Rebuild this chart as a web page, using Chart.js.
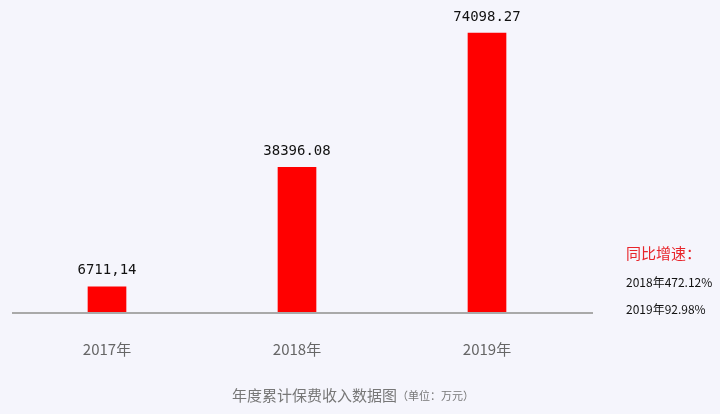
<!DOCTYPE html>
<html>
<head>
<meta charset="utf-8">
<script src="https://cdn.jsdelivr.net/npm/chart.js@4/dist/chart.umd.min.js"></script>
<style>
  html, body { margin: 0; padding: 0; background: #f5f5fc; }
  #wrap { width: 720px; height: 414px; }
</style>
</head>
<body>
<div id="wrap"><canvas id="premiumCanvas" width="720" height="414"></canvas></div>
<script>
// 年度累计保费收入（万元）
const years = ['2017年', '2018年', '2019年'];
const premiums = [6711.14, 38396.08, 74098.27];
const premiumLabels = ['6711,14', '38396.08', '74098.27'];
const growthTitle = '同比增速：';
const growthLines = ['2018年472.12%', '2019年92.98%'];

const CN = '"Noto Sans CJK SC", "Noto Sans", sans-serif';

// bar value labels + baseline + right note + bottom title
const decorPlugin = {
  id: 'decor',
  afterDatasetsDraw(chart) {
    const ctx = chart.ctx;
    const area = chart.chartArea;
    ctx.save();

    // baseline
    ctx.strokeStyle = '#a9a9a9';
    ctx.lineWidth = 2;
    ctx.beginPath();
    ctx.moveTo(12, area.bottom + 1);
    ctx.lineTo(593, area.bottom + 1);
    ctx.stroke();

    // values above bars
    const meta = chart.getDatasetMeta(0);
    ctx.fillStyle = '#111';
    ctx.font = '14px "DejaVu Sans Mono", monospace';
    ctx.textAlign = 'center';
    ctx.textBaseline = 'bottom';
    meta.data.forEach(function(bar, i) {
      ctx.fillText(premiumLabels[i], bar.x, bar.y - 9);
    });

    // right side note
    ctx.textAlign = 'left';
    ctx.textBaseline = 'middle';
    ctx.fillStyle = '#e8242a';
    ctx.font = '15px ' + CN;
    ctx.fillText(growthTitle, 626, 253);
    ctx.fillStyle = '#111';
    ctx.font = '12px ' + CN;
    growthLines.forEach(function(t, i) {
      ctx.fillText(t, 626, 282 + i * 27);
    });

    // bottom title
    ctx.fillStyle = '#777';
    const main = '年度累计保费收入数据图';
    const unit = '（单位：万元）';
    ctx.font = '15px ' + CN;
    const w1 = ctx.measureText(main).width;
    ctx.font = '11px ' + CN;
    const w2 = ctx.measureText(unit).width;
    const x0 = 353 - (w1 + w2) / 2;
    ctx.font = '15px ' + CN;
    ctx.fillText(main, x0, 395);
    ctx.font = '11px ' + CN;
    ctx.fillText(unit, x0 + w1, 396);

    ctx.restore();
  }
};

new Chart(document.getElementById('premiumCanvas'), {
  type: 'bar',
  data: {
    labels: years,
    datasets: [{
      data: premiums,
      backgroundColor: '#ff0000',
      borderWidth: 0,
      barThickness: 38,
    }]
  },
  options: {
    responsive: false,
    animation: false,
    layout: { padding: { top: 20, left: 12, right: 138, bottom: 36 } },
    plugins: {
      legend: { display: false },
      tooltip: { enabled: false }
    },
    scales: {
      x: {
        grid: { display: false },
        border: { display: false },
        ticks: {
          color: '#666',
          font: { size: 15, family: CN },
          padding: 20
        }
      },
      y: {
        display: false,
        min: 0,
        max: 77550
      }
    }
  },
  plugins: [decorPlugin]
});
</script>
</body>
</html>
